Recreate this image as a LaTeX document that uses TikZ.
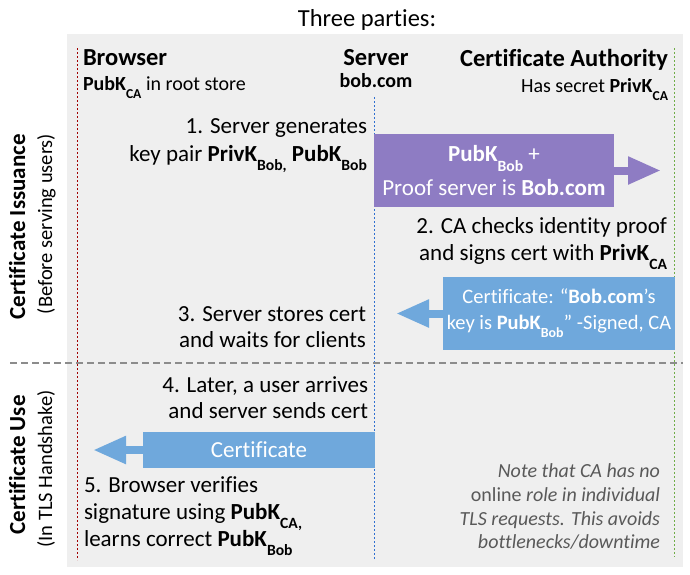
\documentclass[tikz,border=0pt]{standalone}
\usepackage{fontspec}
\setmainfont{Carlito}[Ligatures=NoCommon]
\usetikzlibrary{arrows.meta}
\definecolor{bgray}{HTML}{EFEFEF}
\definecolor{purp}{HTML}{8E7CC3}
\definecolor{lblue}{HTML}{6FA8DC}
\definecolor{redl}{HTML}{A00000}
\definecolor{bluel}{HTML}{2F6FD0}
\definecolor{greenl}{HTML}{70AD47}
\definecolor{notec}{HTML}{595959}
\definecolor{sepc}{HTML}{8C8C8C}
\newcommand\lowsub[1]{\raisebox{-0.42em}{\scalebox{0.68}{\bfseries #1}}}
\newcommand\fs[1]{\fontsize{#1}{#1}\selectfont}
\begin{document}
\begin{tikzpicture}[x=1pt,y=-1pt,
  every node/.style={inner sep=0pt, outer sep=0pt},
  txt/.style={font=\fs{23}},
  hdr/.style={font=\bfseries\fs{24.5}},
  sml/.style={font=\fs{20}},
  sidebold/.style={font=\bfseries\fs{23}, rotate=90, anchor=base},
  sidereg/.style={font=\fs{20.5}, rotate=90, anchor=base},
  notetxt/.style={font=\itshape\fs{20}, text=notec, anchor=base east},
  lane/.style={line width=1pt, dash pattern=on 2pt off 2pt},
  msgbox/.style={minimum width=#1, text=white, align=center},
  shaft/.style={line width=8pt, -{Triangle[length=33pt,width=26pt]}}
]
\useasboundingbox (0,0) rectangle (690,574);
\fill[bgray] (67,34) rectangle (683,567);

% lanes
\coordinate (brtop) at (77,48);
\coordinate (brbot) at (77,560);
\coordinate (svtop) at (374.5,97);
\coordinate (svbot) at (374.5,560);
\coordinate (catop) at (674,48);
\coordinate (cabot) at (674,557);
\draw[lane, redl] (brtop) -- (brbot);
\draw[lane, bluel] (svtop) -- (svbot);
\draw[lane, greenl] (catop) -- (cabot);

% phase separator
\coordinate (sepl) at (10,363);
\coordinate (sepr) at (683,363);
\draw[sepc, line width=1.2pt, dash pattern=on 7pt off 4pt] (sepl) -- (sepr);

% title and headers
\node[font=\fs{24.5}, anchor=base] (title) at (367,26) {Three parties:};
\node[hdr, anchor=base west] (browser) at (83,65) {Browser};
\node[sml, anchor=base west] (rootstore) at (83,90) {\textbf{PubK}\lowsub{CA} in root store};
\node[hdr, anchor=base] (server) at (376,65) {Server};
\node[font=\bfseries\fs{20}, anchor=base] (bob) at (376,87) {bob.com};
\node[hdr, anchor=base east] (ca) at (668,66) {Certificate Authority};
\node[sml, anchor=base east] (secret) at (668,92) {Has secret \textbf{PrivK}\lowsub{CA}};

% side labels
\node[sidebold] (issue) at (25,227) {Certificate Issuance};
\node[sidereg] (issuesub) at (52,224) {(Before serving users)};
\node[sidebold] (use) at (25,465) {Certificate Use};
\node[sidereg] (usesub) at (52,469) {(In TLS Handshake)};

% step 1
\node[txt, anchor=base east] (s1a) at (367,133) {1. Server generates};
\node[txt, anchor=base east] (s1b) at (367,161) {key pair \textbf{PrivK}\lowsub{Bob,} \textbf{PubK}\lowsub{Bob}};
\node[msgbox=240pt, minimum height=73pt, fill=purp, font=\fontsize{23}{34}\selectfont] (req) at (494,170.5)
  {\textbf{PubK}\lowsub{Bob} +\\ Proof server is \textbf{Bob.com}};
\coordinate (reqtip) at (661,170.5);
\draw[shaft, purp] (req.east) -- (reqtip);

% step 2
\node[txt, anchor=base east] (s2a) at (667,233) {2. CA checks identity proof};
\node[txt, anchor=base east] (s2b) at (667,260) {and signs cert with \textbf{PrivK}\lowsub{CA}};
\node[msgbox=232pt, minimum height=73pt, fill=lblue, font=\fontsize{20.5}{25.5}\selectfont] (cert) at (559,313.5)
  {Certificate: “\textbf{Bob.com}’s\\ key is \textbf{PubK}\lowsub{Bob}” -Signed, CA};
\coordinate (certtip) at (396,313.5);
\draw[shaft, lblue] (cert.west) -- (certtip);

% step 3
\node[txt, anchor=base east] (s3a) at (366,321) {3. Server stores cert};
\node[txt, anchor=base east] (s3b) at (366,347) {and waits for clients};

% step 4
\node[txt, anchor=base east] (s4a) at (368,392) {4. Later, a user arrives};
\node[txt, anchor=base east] (s4b) at (368,418) {and server sends cert};
\node[msgbox=232pt, minimum height=36pt, fill=lblue, font=\fs{23}] (usecert) at (259,450) {Certificate};
\coordinate (usetip) at (93,450);
\draw[shaft, lblue] (usecert.west) -- (usetip);

% step 5
\node[txt, anchor=base west] (s5a) at (84,492) {5. Browser verifies};
\node[txt, anchor=base west] (s5b) at (84,519) {signature using \textbf{PubK}\lowsub{CA,}};
\node[txt, anchor=base west] (s5c) at (84,546) {learns correct \textbf{PubK}\lowsub{Bob}};

% note
\node[notetxt] (n1) at (660,477) {Note that CA has no};
\node[notetxt] (n2) at (660,501) {\upshape online \itshape role in individual};
\node[notetxt] (n3) at (660,525) {TLS requests. This avoids};
\node[notetxt] (n4) at (660,548) {bottlenecks/downtime};
\end{tikzpicture}
\end{document}
